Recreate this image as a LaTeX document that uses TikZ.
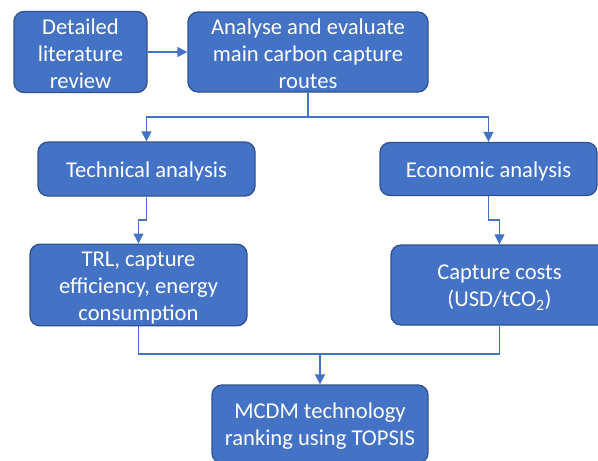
\documentclass[tikz,border=0pt]{standalone}
\usepackage{fontspec}
\setmainfont{Carlito}
\usetikzlibrary{arrows.meta}
\definecolor{boxfill}{HTML}{4472C4}
\definecolor{boxedge}{HTML}{2F528F}
\definecolor{linkblue}{HTML}{4472C4}
% strut that gives the first text line a taller top, so the text sits a little low in its box
\newcommand{\toplinestrut}{\rule{0pt}{20pt}}
\begin{document}
\begin{tikzpicture}[x=1pt,y=-1pt,
  stagebox/.style={draw=boxedge, line width=1.3pt, fill=boxfill, rounded corners=10pt,
    text=white, align=center, inner sep=2pt,
    font=\fontsize{22.6}{27}\selectfont},
  link/.style={draw=linkblue, line width=1.2pt},
  linkarrow/.style={link, -{Triangle[length=10pt,width=10pt]}}
]
\useasboundingbox (0,0) rectangle (598,461);

% process stages
\node[stagebox, minimum width=133pt, minimum height=81pt] (lit) at (80.5,52)
  {\toplinestrut Detailed\\literature\\review};
\node[stagebox, minimum width=240pt, minimum height=80pt] (routes) at (308,52)
  {\toplinestrut Analyse and evaluate\\main carbon capture\\routes};
\node[stagebox, minimum width=217pt, minimum height=54pt] (tech) at (146.5,169)
  {\toplinestrut Technical analysis};
\node[stagebox, minimum width=217pt, minimum height=53pt] (econ) at (488.5,169)
  {\toplinestrut Economic analysis};
\node[stagebox, minimum width=217pt, minimum height=78pt] (trl) at (138.5,285)
  {\toplinestrut TRL, capture\\efficiency, energy\\consumption};
\node[stagebox, minimum width=217pt, minimum height=80pt] (cost) at (499.5,285)
  {\toplinestrut Capture costs\\(USD/tCO\textsubscript{2})};
\node[stagebox, minimum width=216pt, minimum height=78pt] (rank) at (320,424)
  {\toplinestrut MCDM technology\\ranking using TOPSIS};

% routing levels
\coordinate (split) at (0,117);
\coordinate (jogT) at (0,220);
\coordinate (merge) at (0,354);

% connectors
\draw[linkarrow] (lit.east) -- (routes.west);
\draw[link] (routes.south) -- (routes.south |- split);
\draw[linkarrow] (routes.south |- split) -| (tech.north);
\draw[linkarrow] (routes.south |- split) -| (econ.north);
\draw[linkarrow] (tech.south) -- (tech.south |- jogT) -- (trl.north |- jogT) -- (trl.north);
\draw[linkarrow] (econ.south) -- (econ.south |- jogT) -- (cost.north |- jogT) -- (cost.north);
\draw[link] (trl.south) -- (trl.south |- merge) -- (cost.south |- merge) -- (cost.south);
\draw[linkarrow] (rank.north |- merge) -- (rank.north);
\end{tikzpicture}
\end{document}
